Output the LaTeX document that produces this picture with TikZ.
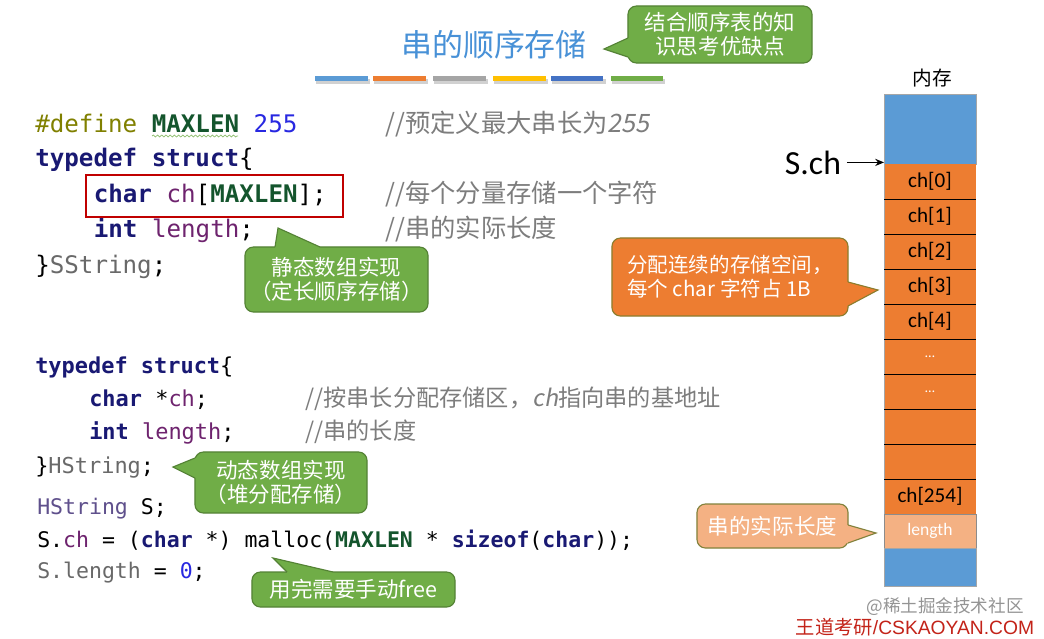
\documentclass[tikz,border=0pt]{standalone}
\usepackage{fontspec}
\usepackage{tikz}
\usetikzlibrary{arrows.meta,decorations.pathmorphing}

\setmainfont{Carlito}
\newfontfamily\cjk{Noto Sans CJK SC}
\newfontfamily\cjkslant[FakeSlant=0.18]{Noto Sans CJK SC}
\newfontfamily\codefont{DejaVu Sans Mono}
\newfontfamily\arialfont{Liberation Sans}

% --- palette ---
\definecolor{titleblue}{RGB}{72,145,215}
\definecolor{barblue}{RGB}{91,155,213}
\definecolor{barorange}{RGB}{237,125,49}
\definecolor{bargray}{RGB}{165,165,165}
\definecolor{baryellow}{RGB}{255,192,0}
\definecolor{bardeep}{RGB}{68,114,196}
\definecolor{bargreen}{RGB}{112,173,71}
\definecolor{calloutgreen}{RGB}{112,173,71}
\definecolor{greenedge}{RGB}{84,130,53}
\definecolor{memorange}{RGB}{237,125,49}
\definecolor{orangeedge}{RGB}{140,125,45}
\definecolor{peach}{RGB}{244,177,131}
\definecolor{peachedge}{RGB}{130,130,60}
\definecolor{kwnavy}{RGB}{25,25,115}
\definecolor{macgreen}{RGB}{20,85,45}
\definecolor{numblue}{RGB}{40,40,225}
\definecolor{fieldpurple}{RGB}{110,35,110}
\definecolor{ppolive}{RGB}{128,128,0}
\definecolor{typegray}{RGB}{105,105,105}
\definecolor{hsviolet}{RGB}{95,80,140}
\definecolor{cmtgray}{RGB}{125,125,125}
\definecolor{hlred}{RGB}{192,0,0}
\definecolor{wmred}{RGB}{195,35,25}

% --- code colouring ---
\newcommand{\ckw}[1]{\textbf{\color{kwnavy}#1}}
\newcommand{\cmac}[1]{\textbf{\color{macgreen}#1}}
\newcommand{\cnum}[1]{{\color{numblue}#1}}
\newcommand{\cfld}[1]{{\color{fieldpurple}#1}}
\newcommand{\cpp}[1]{{\color{ppolive}#1}}
\newcommand{\ctype}[1]{{\color{typegray}#1}}
\newcommand{\chs}[1]{{\color{hsviolet}#1}}

\begin{document}
\begin{tikzpicture}[
  x=0.025cm, y=-0.025cm,
  >={Stealth[length=2.2mm,width=1.8mm]},
  codeline/.style={anchor=base west, inner sep=0pt,
                   font=\codefont\fontsize{17.2}{20}\selectfont},
  codesmall/.style={codeline, font=\codefont\fontsize{15.6}{18}\selectfont},
  codetiny/.style={codeline, font=\codefont\fontsize{15.3}{18}\selectfont},
  cmt/.style={anchor=base west, inner sep=0pt, text=cmtgray,
              font=\cjk\fontsize{18}{20}\selectfont},
  cmtsmall/.style={cmt, font=\cjk\fontsize{16.5}{19}\selectfont},
  tipbox/.style={rectangle, rounded corners=6pt, line width=0.8pt,
                 align=center, inner sep=0pt, text=white,
                 font=\cjk\fontsize{15.3}{17}\selectfont},
  greenbox/.style={tipbox, draw=greenedge, fill=calloutgreen},
  greentip/.style={fill=calloutgreen},
  greenedge/.style={draw=greenedge, line width=0.8pt},
  cell/.style={rectangle, fill=memorange, minimum width=2.3cm,
               minimum height=0.875cm, inner sep=0pt, outer sep=0pt,
               font=\fontsize{15}{18}\selectfont},
  divider/.style={draw=black, line width=0.7pt},
  ptr/.style={->, draw=black, line width=1pt},
  squig/.style={draw=bargreen!80, line width=0.5pt,
                decorate, decoration={snake, amplitude=0.7pt, segment length=3pt}},
]

% --- fixed bounding box (white background) ---
\fill[white] (0,0) rectangle (1044,638);
\useasboundingbox (0,0) rectangle (1044,638);

% ============================ TITLE =================================
\node[text=titleblue, font=\cjk\fontsize{22}{24}\selectfont] (title)
  at (494,45) {串的顺序存储};

% colour bars under the title (shadow first)
\fill[black!18] (316,79) rectangle (370,84);
\fill[black!18] (374,79) rectangle (428,84);
\fill[black!18] (434,79) rectangle (488,84);
\fill[black!18] (494,79) rectangle (548,84);
\fill[black!18] (552,79) rectangle (606,84);
\fill[black!18] (612,79) rectangle (665,84);
\fill[barblue]   (315,76) rectangle (368,81);
\fill[barorange] (373,76) rectangle (426,81);
\fill[bargray]   (433,76) rectangle (486,81);
\fill[baryellow] (493,76) rectangle (546,81);
\fill[bardeep]   (551,76) rectangle (603,81);
\fill[bargreen]  (611,76) rectangle (663,81);

% ============================ CODE ==================================
% Block 1 -- SString
\node[codeline] (l1) at (35,132)
  {\cpp{\#define} \cmac{MAXLEN} \cnum{255}};
\node[codeline] (l2) at (35,166) {\ckw{typedef} \ckw{struct}\{};
\node[codeline] (l3) at (93.5,202) {\ckw{char} \cfld{ch}[\cmac{MAXLEN}];};
\node[codeline] (l4) at (93.5,237) {\ckw{int} \cfld{length};};
\node[codeline] (l5) at (35,273) {\}\ctype{SString};};
\draw[squig] (152,136) -- (238,136);

\node[cmt] (cm1) at (385,132) {//预定义最大串长为{\cjkslant 255}};
\node[cmt] (cm3) at (385,202) {//每个分量存储一个字符};
\node[cmt] (cm4) at (385,237) {//串的实际长度};

% highlight round the static array field
\draw[hlred, line width=1.5pt] (86,175) rectangle (343,217);

% Block 2 -- HString
\node[codesmall] (l6) at (35,373) {\ckw{typedef} \ckw{struct}\{};
\node[codesmall] (l7) at (89,406) {\ckw{char} *\cfld{ch};};
\node[codesmall] (l8) at (89,439) {\ckw{int} \cfld{length};};
\node[codesmall] (l9) at (35,473) {\}\ctype{HString};};
\node[cmtsmall] (cm7) at (305,406) {//按串长分配存储区，{\cjkslant ch}指向串的基地址};
\node[cmtsmall] (cm8) at (305,439) {//串的长度};

\node[codetiny] (l10) at (37,514) {\chs{HString} S;};
\node[codetiny] (l11) at (37,547)
  {S.\cfld{ch} = (\ckw{char} *) malloc(\cmac{MAXLEN} * \ckw{sizeof}(\ckw{char}));};
\node[codetiny] (l12) at (37,578) {\ctype{S.length} = \cnum{0};};

% ============================ MEMORY ================================
\node[font=\cjk\fontsize{14}{16}\selectfont] (memlbl) at (932,78) {内存};
\node[rectangle, fill=barblue, draw=black!35, line width=0.6pt,
      minimum width=2.3cm, minimum height=1.75cm, inner sep=0pt] (mtop)
  at (930,129) {};
\node[cell] (c0) at (930,181.5) {ch[0]};
\node[cell] (c1) at (930,216.5) {ch[1]};
\node[cell] (c2) at (930,251.5) {ch[2]};
\node[cell] (c3) at (930,286.5) {ch[3]};
\node[cell] (c4) at (930,321.5) {ch[4]};
\node[cell, text=white, font=\fontsize{10}{12}\selectfont] (c5) at (930,356.5) {…};
\node[cell, text=white, font=\fontsize{10}{12}\selectfont] (c6) at (930,391.5) {…};
\node[cell] (c7) at (930,426.5) {};
\node[cell] (c8) at (930,461.5) {};
\node[cell] (c9) at (930,496.5) {ch[254]};
\node[cell, fill=peach, draw=black!45, line width=0.6pt, minimum height=0.85cm,
      text=white, font=\fontsize{12.5}{14}\selectfont] (len) at (930,531) {length};
\node[rectangle, fill=barblue, draw=black!35, line width=0.6pt,
      minimum width=2.3cm, minimum height=0.95cm, inner sep=0pt] (mbot)
  at (930,567) {};
\draw[black!35, line width=0.6pt] (c0.north west) -- (c9.south west);
\foreach \i in {0,...,8}
  \draw[divider] (c\i.south west) -- (c\i.south east);

% base pointer
\node[anchor=base, inner sep=4pt, font=\fontsize{24}{26}\selectfont] (sch)
  at (813,174) {S.ch};
\draw[ptr] (sch.east) -- (sch.east -| c0.west);

% ============================ CALLOUTS ==============================
% top -- 结合顺序表
\node[greenbox, minimum width=4.6cm, minimum height=1.425cm] (tipA)
  at (720,34.5) {结合顺序表的知\\识思考优缺点};
\fill[greentip] (628,38) -- (604,49) -- (628,57) -- (631,57) -- (631,38) -- cycle;
\draw[greenedge] (628,38) -- (604,49) -- (628,57);

% static array
\node[greenbox, minimum width=4.575cm, minimum height=1.625cm,
      font=\cjk\fontsize{15.3}{17.5}\selectfont] (tipB)
  at (336.5,279.5) {静态数组实现\\（定长顺序存储）};
\fill[greentip] (275,247) -- (278,228) -- (320,247) -- (320,250) -- (275,250) -- cycle;
\draw[greenedge] (275,247) -- (278,228) -- (320,247);

% dynamic array
\node[greenbox, minimum width=4.3cm, minimum height=1.525cm,
      font=\cjk\fontsize{15.3}{17.5}\selectfont] (tipC)
  at (281,482.5) {动态数组实现\\（堆分配存储）};
\fill[greentip] (195,458) -- (173,467) -- (195,478) -- (198,478) -- (198,458) -- cycle;
\draw[greenedge] (195,458) -- (173,467) -- (195,478);

% free
\node[greenbox, minimum width=5.075cm, minimum height=0.875cm] (tipD)
  at (353.5,589.5) {用完需要手动free};
\fill[greentip] (287,572) -- (273,558) -- (333,572) -- (333,575) -- (287,575) -- cycle;
\draw[greenedge] (287,572) -- (273,558) -- (333,572);

% contiguous space
\node[tipbox, draw=orangeedge, fill=memorange, align=left,
      minimum width=5.9cm, minimum height=1.95cm,
      font=\cjk\fontsize{14.6}{17}\selectfont] (tipE)
  at (730,277) {分配连续的存储空间，\\每个 char 字符占 1B};
\fill[memorange] (848,282) -- (878,290) -- (848,306) -- (845,306) -- (845,282) -- cycle;
\draw[draw=orangeedge, line width=0.8pt] (848,282) -- (878,290) -- (848,306);

% actual length
\node[tipbox, draw=peachedge, fill=peach, minimum width=3.775cm,
      minimum height=1.1cm] (tipF)
  at (772.5,526) {串的实际长度};
\fill[peach] (848,525) -- (876,533) -- (848,543) -- (845,543) -- (845,525) -- cycle;
\draw[draw=peachedge, line width=0.8pt] (848,525) -- (876,533) -- (848,543);

% ============================ WATERMARK =============================
\node[text=black!42, font=\cjk\fontsize{12.5}{14}\selectfont] (wm1)
  at (945,607) {@稀土掘金技术社区};
\node[text=wmred, font=\fontsize{13.7}{15}\selectfont] (wm2)
  at (915,627) {{\cjk 王道考研}{\arialfont /CSKAOYAN.COM}};

\end{tikzpicture}
\end{document}
